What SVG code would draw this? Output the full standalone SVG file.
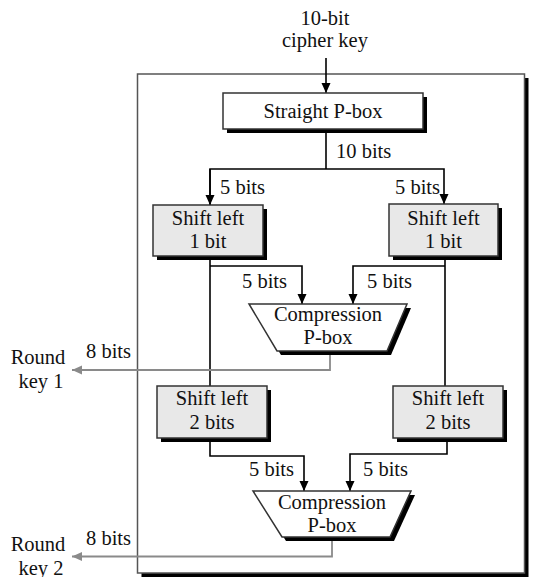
<svg xmlns="http://www.w3.org/2000/svg" width="550" height="577" viewBox="0 0 550 577">
<style>
text{font-family:"Liberation Serif","Times New Roman",serif;font-size:20.5px;fill:#111}
.c{text-anchor:middle}
.box{fill:#fff;stroke:#333;stroke-width:1.5}
.gbox{fill:#e8e8e8;stroke:#333;stroke-width:1.5}
.sh{fill:#000}
.ln{fill:none;stroke:#000;stroke-width:1.6}
.gl{fill:none;stroke:#8a8a8a;stroke-width:1.8}
</style>
<defs>
<marker id="ah" markerWidth="10" markerHeight="10" refX="10" refY="5" orient="auto" markerUnits="userSpaceOnUse"><path d="M0,0.5 L10,5 L0,9.5 z" fill="#000"/></marker>
<marker id="gah" markerWidth="11" markerHeight="10" refX="10" refY="5" orient="auto" markerUnits="userSpaceOnUse"><path d="M0,0.5 L10,5 L0,9.5 z" fill="#8a8a8a"/></marker>
</defs>
<rect width="550" height="577" fill="#fff"/>
<g id="frame">
<rect class="sh" x="141.5" y="78" width="387" height="499"/>
<rect x="137.5" y="74" width="387" height="499" fill="#fff" stroke="#555" stroke-width="1.5"/>
</g>
<g id="input-label">
<text class="c" x="325" y="25">10-bit</text>
<text class="c" x="325" y="47">cipher key</text>
</g>
<g id="connectors">
<path class="ln" d="M326,58 V93" marker-end="url(#ah)"/>
<path class="ln" d="M326,129 V169"/>
<path class="ln" d="M210,205 V169 H444 V204" marker-end="url(#ah)"/>
<path class="ln" d="M210,169 V205" marker-end="url(#ah)"/>
<path class="ln" d="M210,256 V386"/>
<path class="ln" d="M210,266 H302 V304" marker-end="url(#ah)"/>
<path class="ln" d="M445,256 V386"/>
<path class="ln" d="M445,266 H353 V304" marker-end="url(#ah)"/>
<path class="ln" d="M210,438 V456 H304 V491" marker-end="url(#ah)"/>
<path class="ln" d="M447,438 V454 H350 V491" marker-end="url(#ah)"/>
<path class="gl" d="M330,351 V370 H72" marker-end="url(#gah)"/>
<path class="gl" d="M332,537 V556.5 H72" marker-end="url(#gah)"/>
</g>
<g id="labels">
<text x="336" y="158">10 bits</text>
<text x="220" y="194">5 bits</text>
<text x="395" y="194">5 bits</text>
<text x="242" y="288">5 bits</text>
<text x="367" y="288">5 bits</text>
<text x="249" y="476">5 bits</text>
<text x="363" y="476">5 bits</text>
<text x="86" y="358">8 bits</text>
<text x="86" y="545">8 bits</text>
</g>
<g id="straight-pbox">
<rect class="sh" x="227" y="97" width="200" height="36"/>
<rect class="box" x="223" y="93" width="200" height="36"/>
<text class="c" x="323" y="118">Straight P-box</text>
</g>
<g id="shift1-left">
<rect class="sh" x="157" y="209" width="110" height="51"/>
<rect class="gbox" x="153" y="205" width="110" height="51"/>
<text class="c" x="208" y="225">Shift left</text>
<text class="c" x="208" y="248">1 bit</text>
</g>
<g id="shift1-right">
<rect class="sh" x="393" y="208" width="109" height="52"/>
<rect class="gbox" x="389" y="204" width="109" height="52"/>
<text class="c" x="443.5" y="225">Shift left</text>
<text class="c" x="443.5" y="248">1 bit</text>
</g>
<g id="compression1">
<polygon class="sh" points="253,308 411,308 391,355 281,355"/>
<polygon class="box" points="249,304 407,304 387,351 277,351"/>
<text class="c" x="328" y="321">Compression</text>
<text class="c" x="328" y="344">P-box</text>
</g>
<g id="shift2-left">
<rect class="sh" x="161" y="390" width="110" height="52"/>
<rect class="gbox" x="157" y="386" width="110" height="52"/>
<text class="c" x="212" y="405">Shift left</text>
<text class="c" x="212" y="429">2 bits</text>
</g>
<g id="shift2-right">
<rect class="sh" x="397" y="390" width="110" height="52"/>
<rect class="gbox" x="393" y="386" width="110" height="52"/>
<text class="c" x="448" y="405">Shift left</text>
<text class="c" x="448" y="429">2 bits</text>
</g>
<g id="compression2">
<polygon class="sh" points="257,495 415,495 394,541 286,541"/>
<polygon class="box" points="253,491 411,491 390,537 282,537"/>
<text class="c" x="332" y="509">Compression</text>
<text class="c" x="332" y="532">P-box</text>
</g>
<g id="round-key-1">
<text class="c" x="38" y="364">Round</text>
<text class="c" x="41" y="388">key 1</text>
</g>
<g id="round-key-2">
<text class="c" x="38" y="551">Round</text>
<text class="c" x="41" y="575">key 2</text>
</g>
</svg>
